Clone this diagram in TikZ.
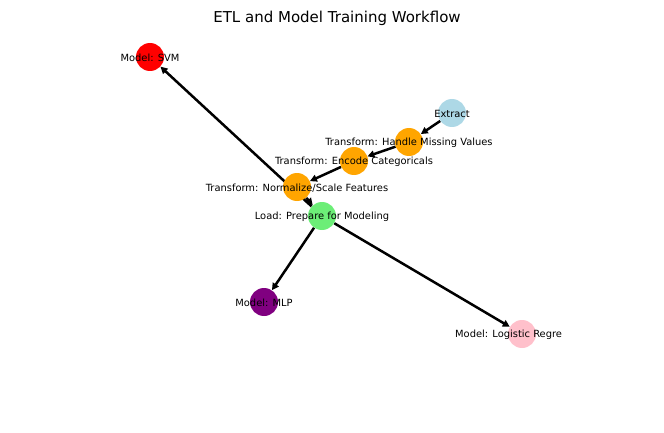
\documentclass[tikz,border=0pt]{standalone}
\usepackage{fontspec}
\setmainfont{DejaVu Sans}
\usetikzlibrary{arrows.meta}
\definecolor{nblue}{HTML}{ADD8E6}
\definecolor{norange}{HTML}{FFA500}
\definecolor{ngreen}{HTML}{6CEE77}
\definecolor{npurple}{HTML}{800080}
\definecolor{nred}{HTML}{FF0000}
\definecolor{npink}{HTML}{FFC0CB}
\tikzset{
  dot/.style={circle, inner sep=0pt, minimum size=28pt, draw=none},
  lbl/.style={font=\fontsize{9.9pt}{11pt}\selectfont, text=black, inner sep=0pt, yshift=-1pt},
  edge/.style={line width=2.5pt, black, -{Triangle[length=7pt,width=7pt]}},
}
\begin{document}
\begin{tikzpicture}[x=1pt,y=-1pt]
\useasboundingbox (0,0) rectangle (664,433);
\node[font=\fontsize{15pt}{17pt}\selectfont, text=black] (title) at (337,18) {ETL and Model Training Workflow};
% node positions
\coordinate (pE) at (452,113);
\coordinate (pH) at (409,142);
\coordinate (pC) at (354,161);
\coordinate (pN) at (297,187);
\coordinate (pL) at (322,216);
\coordinate (pS) at (150,57);
\coordinate (pM) at (264,302);
\coordinate (pR) at (522,334);
% node shapes (for anchors)
\node[dot] (E) at (pE) {};
\node[dot] (H) at (pH) {};
\node[dot] (C) at (pC) {};
\node[dot] (N) at (pN) {};
\node[dot] (L) at (pL) {};
\node[dot] (S) at (pS) {};
\node[dot] (M) at (pM) {};
\node[dot] (R) at (pR) {};
% edges
\draw[edge] (L) -- (S);
\draw[edge] (E) -- (H);
\draw[edge] (H) -- (C);
\draw[edge] (C) -- (N);
\draw[edge] (N) -- (L);
\draw[edge] (L) -- (M);
\draw[edge] (L) -- (R);
% node fills over edges
\fill[nblue] (pE) circle (14);
\fill[norange] (pH) circle (14);
\fill[norange] (pC) circle (14);
\fill[norange] (pN) circle (14);
\fill[ngreen] (pL) circle (14);
\fill[nred] (pS) circle (14);
\fill[npurple] (pM) circle (14);
\fill[npink] (pR) circle (14);
% labels
\node[lbl] (tE) at (pE) {Extract};
\node[lbl] (tH) at (pH) {Transform: Handle Missing Values};
\node[lbl] (tC) at (pC) {Transform: Encode Categoricals};
\node[lbl] (tN) at (pN) {Transform: Normalize/Scale Features};
\node[lbl] (tL) at (pL) {Load: Prepare for Modeling};
\node[lbl] (tS) at (pS) {Model: SVM};
\node[lbl] (tM) at (pM) {Model: MLP};
\node[lbl, anchor=west] (tR) at (455,334) {Model: Logistic Regre};
\end{tikzpicture}
\end{document}
